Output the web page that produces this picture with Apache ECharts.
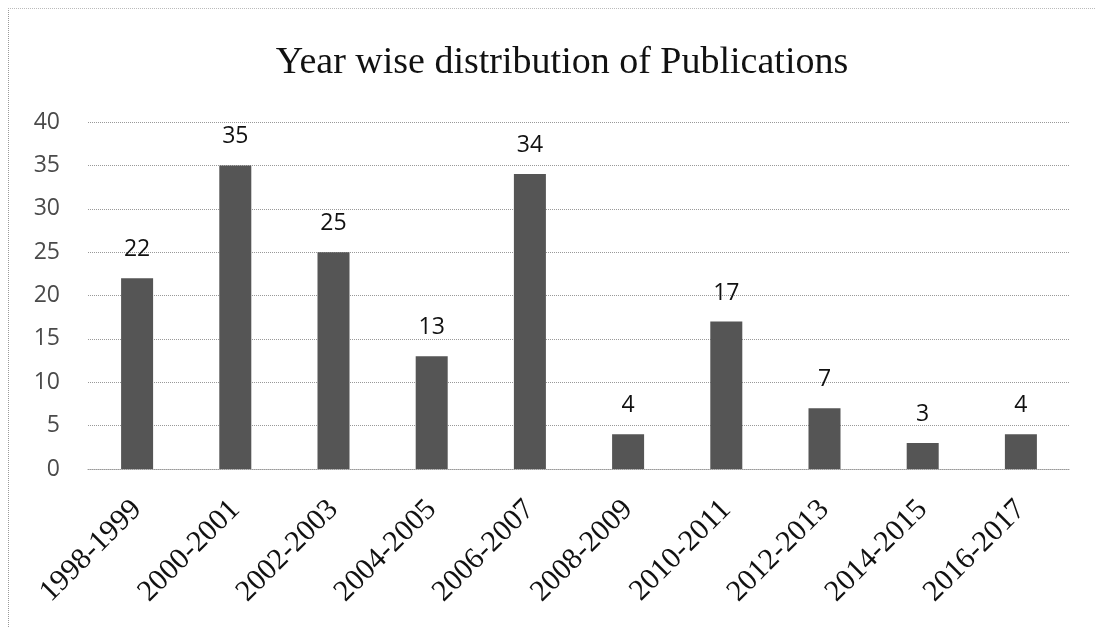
<!DOCTYPE html>
<html>
<head>
<meta charset="utf-8">
<script src="https://cdn.jsdelivr.net/npm/echarts@6/dist/echarts.min.js"></script>
<style>
  html, body { margin: 0; padding: 0; background: #fff; }
  #frame { position: absolute; left: 8px; top: 8px; width: 1087px; height: 619px;
           border-left: 1px dotted #999; border-top: 1px dotted #bbb; box-sizing: border-box; }
  #chart { position: absolute; left: 0; top: 0; width: 1095px; height: 627px; }
</style>
</head>
<body>
<div id="frame"></div>
<div id="chart"></div>
<script>
const categories = ['1998-1999', '2000-2001', '2002-2003', '2004-2005', '2006-2007',
  '2008-2009', '2010-2011', '2012-2013', '2014-2015', '2016-2017']
const publications = [22, 35, 25, 13, 34, 4, 17, 7, 3, 4]
const yTicks = { min: 0, max: 40, interval: 5 }

const myChart = echarts.init(document.getElementById('chart'))

const option = {
  animation: false,
  title: {
    text: 'Year wise distribution of Publications',
    left: 557,
    textAlign: 'center',
    top: 39,
    textStyle: { fontFamily: 'Liberation Serif', fontSize: 38, fontWeight: 'normal', color: '#111' },
  },
  grid: { left: 88, right: 25, top: 122, bottom: 158 },
  xAxis: {
    type: 'category',
    data: categories,
    axisLine: { lineStyle: { color: '#999', type: 'dotted' } },
    axisTick: { show: false },
    axisLabel: {
      rotate: 45,
      margin: 36,
      fontFamily: 'Liberation Serif',
      fontSize: 30,
      color: '#111',
    },
  },
  yAxis: {
    type: 'value',
    min: yTicks.min,
    max: yTicks.max,
    interval: yTicks.interval,
    axisLine: { show: false },
    axisTick: { show: false },
    axisLabel: { margin: 28, fontFamily: 'Open Sans', fontSize: 23, color: '#4a4a4a' },
    splitLine: { lineStyle: { color: '#999', type: 'dotted' } },
  },
  series: [
    {
      type: 'bar',
      data: publications,
      barWidth: 32,
      itemStyle: { color: '#555' },
      label: {
        show: true,
        position: 'top',
        distance: 17,
        fontFamily: 'Open Sans',
        fontSize: 23,
        color: '#111',
      },
    },
  ],
}

myChart.setOption(option)
</script>
</body>
</html>
